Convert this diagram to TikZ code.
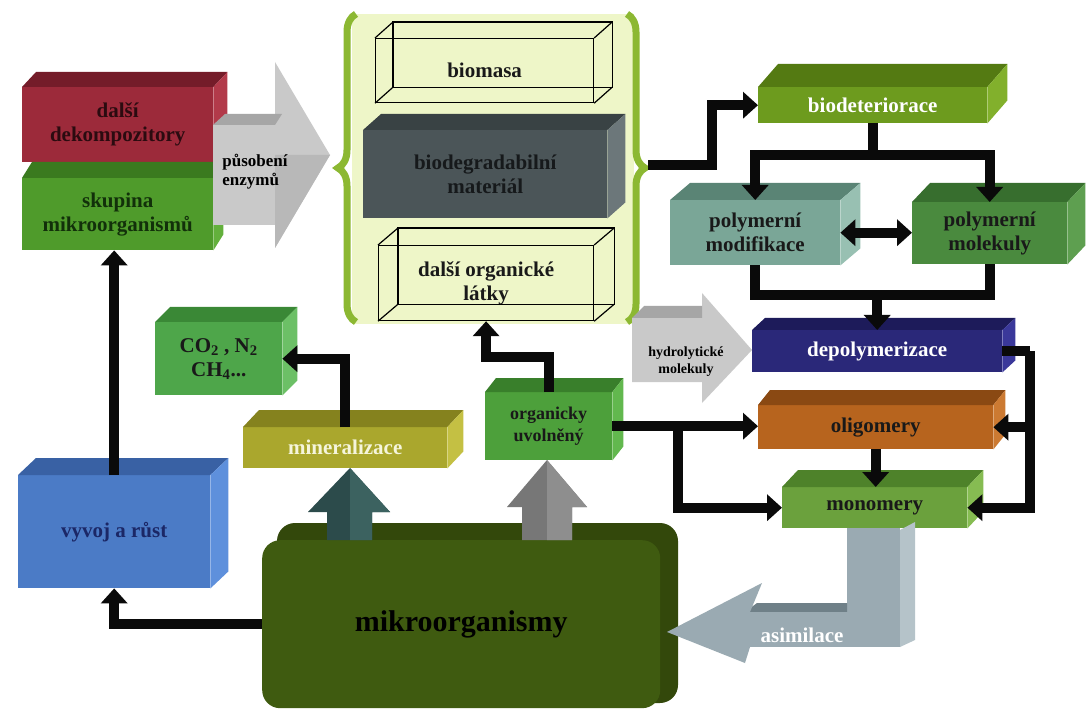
\documentclass[tikz,border=0pt]{standalone}
\usepackage{fontspec}
\setmainfont{Liberation Serif}
\usetikzlibrary{arrows.meta,calc,decorations.pathreplacing}

\definecolor{arrowblack}{HTML}{0A0A0A}
\definecolor{panelfill}{HTML}{EEF6C8}
\definecolor{bracegreen}{HTML}{8CB832}
\definecolor{dekfront}{HTML}{9C2A3A}\definecolor{dektop}{HTML}{741C29}\definecolor{dekside}{HTML}{B23A4A}\definecolor{dektext}{HTML}{2B0B10}
\definecolor{skufront}{HTML}{4F9B2B}\definecolor{skutop}{HTML}{3A7A1F}\definecolor{skuside}{HTML}{63B03C}\definecolor{skutext}{HTML}{12300A}
\definecolor{matfront}{HTML}{4B5558}\definecolor{mattop}{HTML}{394244}\definecolor{matside}{HTML}{6C777A}\definecolor{mattext}{HTML}{16191B}
\definecolor{detfront}{HTML}{6D9B1E}\definecolor{dettop}{HTML}{547A12}\definecolor{detside}{HTML}{82B02C}
\definecolor{modfront}{HTML}{7AA697}\definecolor{modtop}{HTML}{5A8475}\definecolor{modside}{HTML}{98C0B2}
\definecolor{molfront}{HTML}{4A8A3E}\definecolor{moltop}{HTML}{376E2E}\definecolor{molside}{HTML}{5E9F50}
\definecolor{depfront}{HTML}{2A2879}\definecolor{deptop}{HTML}{1D1B5A}\definecolor{depside}{HTML}{3A389A}
\definecolor{oligfront}{HTML}{B7641E}\definecolor{oligtop}{HTML}{8A4913}\definecolor{oligside}{HTML}{CC7A32}
\definecolor{monofront}{HTML}{6BA13D}\definecolor{monotop}{HTML}{4E822A}\definecolor{monoside}{HTML}{86BC52}
\definecolor{cofront}{HTML}{4EA64A}\definecolor{cotop}{HTML}{3A8836}\definecolor{coside}{HTML}{6CC066}
\definecolor{minfront}{HTML}{AAA72D}\definecolor{mintop}{HTML}{85821E}\definecolor{minside}{HTML}{C4C043}\definecolor{mintext}{HTML}{F5F5DC}
\definecolor{orgfront}{HTML}{4DA03B}\definecolor{orgtop}{HTML}{397F2B}\definecolor{orgside}{HTML}{62B84E}
\definecolor{vyvfront}{HTML}{4B7BC6}\definecolor{vyvtop}{HTML}{3961A4}\definecolor{vyvside}{HTML}{5E90DC}\definecolor{vyvtext}{HTML}{1B2766}
\definecolor{mikfront}{HTML}{3F5B10}\definecolor{mikback}{HTML}{33480B}
\definecolor{minarrow}{HTML}{2C4B4B}\definecolor{minarrowlt}{HTML}{3C6260}
\definecolor{orgarrow}{HTML}{777777}\definecolor{orgarrowlt}{HTML}{8E8E8E}
\definecolor{asimfront}{HTML}{9AAAB2}\definecolor{asimtop}{HTML}{6F8088}\definecolor{asimside}{HTML}{B5C3C9}
\definecolor{enzfront}{HTML}{C9C9C9}\definecolor{enztop}{HTML}{A6A6A6}\definecolor{enzlow}{HTML}{B8B8B8}

\newcommand{\boxfaces}[5]{%
  \fill[#4] (#1.north west) -- ++(#2,#3) -- ([shift={(#2,#3)}]#1.north east) -- (#1.north east) -- cycle;
  \fill[#5] (#1.north east) -- ([shift={(#2,#3)}]#1.north east) -- ([shift={(#2,#3)}]#1.south east) -- (#1.south east) -- cycle;}
\newcommand{\wireback}[3]{%
  \draw[wire] ([shift={(#2,#3)}]#1.north west) rectangle ([shift={(#2,#3)}]#1.south east);
  \foreach \c in {north west,north east,south west,south east}
    \draw[wire] (#1.\c) -- ++(#2,#3);}

\tikzset{
  block/.style={anchor=north west, inner sep=0pt, align=center, text=black!90,
    font=\bfseries\fontsize{21}{24}\selectfont},
  wire/.style={draw=black, line width=1.2pt},
  line/.style={line width=10pt, draw=arrowblack},
  conn/.style={line, -{Triangle[width=26pt,length=15pt]}},
  dconn/.style={line, {Triangle[width=26pt,length=15pt]}-{Triangle[width=26pt,length=15pt]}},
  brace/.style={decorate, decoration={brace, amplitude=18pt}, line width=7pt, draw=bracegreen},
}

\begin{document}
\begin{tikzpicture}[x=1pt,y=-1pt]
  \fill[white] (0,0) rectangle (1087,711);
  \useasboundingbox (0,0) rectangle (1087,711);

  \node[block, fill=dekfront, text=dektext, minimum width=191pt, minimum height=75pt] (dekomp) at (22,87) {další\\dekompozitory};
  \boxfaces{dekomp}{14}{-15}{dektop}{dekside}
  \node[block, fill=skufront, text=skutext, minimum width=191pt, minimum height=72pt] (skupina) at (22,178) {skupina\\mikroorganismů};
  \boxfaces{skupina}{10}{-16}{skutop}{skuside}

  \fill[enzfront] (213,125) -- (275,125) -- (275,62) -- (330,155) -- (275,248) -- (275,225) -- (213,225) -- cycle;
  \fill[enztop] (213,125) -- (225,114) -- (282,114) -- (275,125) -- cycle;
  \fill[enzlow] (275,155) -- (330,155) -- (275,248) -- cycle;
  \node[align=left, inner sep=0pt, font=\bfseries\fontsize{17}{19}\selectfont] (enz) at (255,172) {působení\\enzymů};

  \node[anchor=north west, fill=panelfill, minimum width=282pt, minimum height=310pt] (panel) at (352,14) {};
  \draw[brace] (356,322) -- (356,14);
  \draw[brace] (627,14) -- (627,322);
  \coordinate (ptip) at (648,165);

  \node[block, wire, minimum width=218pt, minimum height=64pt] (biomasa) at (375,38) {biomasa};
  \wireback{biomasa}{18}{-16}
  \node[block, fill=matfront, text=mattext, minimum width=244pt, minimum height=88pt] (biodegr) at (363,130) {biodegradabilní\\materiál};
  \boxfaces{biodegr}{18}{-16}{mattop}{matside}
  \node[block, wire, minimum width=215pt, minimum height=75pt] (latky) at (378,245) {další organické\\látky};
  \wireback{latky}{20}{-17}

  \node[block, fill=detfront, text=white, minimum width=229pt, minimum height=36pt] (biodet) at (758,87) {biodeteriorace};
  \boxfaces{biodet}{20}{-23}{dettop}{detside}
  \node[block, fill=modfront, minimum width=170pt, minimum height=65pt] (polmod) at (670,200) {polymerní\\modifikace};
  \boxfaces{polmod}{20}{-17}{modtop}{modside}
  \node[block, fill=molfront, minimum width=155pt, minimum height=62pt] (polmol) at (912,202) {polymerní\\molekuly};
  \boxfaces{polmol}{18}{-19}{moltop}{molside}
  \node[block, fill=depfront, text=white, minimum width=250pt, minimum height=42pt] (depoly) at (752,330) {depolymerizace};
  \boxfaces{depoly}{13}{-12}{deptop}{depside}
  \node[block, fill=oligfront, minimum width=235pt, minimum height=44pt] (oligo) at (758,405) {oligomery};
  \boxfaces{oligo}{12}{-15}{oligtop}{oligside}
  \node[block, fill=monofront, minimum width=185pt, minimum height=41pt] (mono) at (782,487) {monomery};
  \boxfaces{mono}{16}{-17}{monotop}{monoside}

  \fill[enzfront] (632,318) -- (702,318) -- (702,293) -- (752,350) -- (702,403) -- (702,382) -- (632,382) -- cycle;
  \fill[enztop] (632,318) -- (644,306) -- (702,306) -- (702,318) -- cycle;
  \node[align=center, inner sep=0pt, font=\bfseries\fontsize{14}{17}\selectfont] (hydro) at (686,362) {hydrolytické\\molekuly};

  \node[block, fill=cofront, minimum width=127pt, minimum height=73pt] (co2) at (155,322) {CO\textsubscript{2} , N\textsubscript{2}\\CH\textsubscript{4}...};
  \boxfaces{co2}{15}{-15}{cotop}{coside}
  \node[block, fill=minfront, text=mintext, minimum width=204pt, minimum height=41pt] (mineral) at (243,427) {mineralizace};
  \boxfaces{mineral}{16}{-17}{mintop}{minside}
  \node[block, fill=orgfront, font=\bfseries\fontsize{18}{22}\selectfont, minimum width=127pt, minimum height=68pt] (organ) at (485,392) {organicky\\uvolněný};
  \boxfaces{organ}{11}{-14}{orgtop}{orgside}
  \node[block, fill=vyvfront, text=vyvtext, minimum width=192pt, minimum height=113pt] (vyvoj) at (18,475) {vyvoj a růst};
  \boxfaces{vyvoj}{18}{-17}{vyvtop}{vyvside}

  \fill[mikback, rounded corners=18pt] (277,523) rectangle (678,703);
  \node[anchor=north west, fill=mikfront, rounded corners=18pt, minimum width=398pt, minimum height=168pt,
    font=\bfseries\fontsize{30}{32}\selectfont] (mikro) at (262,540) {mikroorganismy};

  \fill[minarrow] (327,540) -- (327,512) -- (308,512) -- (350,468) -- (390,512) -- (372,512) -- (372,540) -- cycle;
  \fill[minarrowlt] (350,468) -- (390,512) -- (372,512) -- (372,540) -- (350,540) -- cycle;
  \fill[orgarrow] (522,540) -- (522,507) -- (507,507) -- (547,460) -- (587,507) -- (572,507) -- (572,540) -- cycle;
  \fill[orgarrowlt] (547,460) -- (587,507) -- (572,507) -- (572,540) -- (547,540) -- cycle;

  \fill[asimside] (900,530) -- (915,522) -- (915,640) -- (900,647) -- cycle;
  \fill[asimfront] (847,528) rectangle (900,647);
  \fill[asimtop] (745,612) -- (757,603) -- (847,603) -- (847,612) -- cycle;
  \fill[asimfront] (745,612) rectangle (900,647);
  \fill[asimfront] (667,632) -- (762,583) -- (750,612) -- (750,647) -- (745,663) -- cycle;
  \node[text=white, font=\bfseries\fontsize{21}{24}\selectfont] (asim) at (802,635) {asimilace};

  \draw[conn] (vyvoj.north) -- (vyvoj.north |- skupina.south);
  \draw[conn] (mikro.west) -| (vyvoj.south);
  \draw[conn] (mineral.north) |- (co2.east);
  \draw[conn] (organ.north) -- ++(0,-35) -| (latky.south);
  \draw[conn] (organ.east) -- (organ.east -| oligo.west);
  \coordinate (split) at ($(organ.east)+(66,0)$);
  \draw[conn] (split) |- (mono.west);
  \draw[conn] (ptip) -- ++(64,0) |- (biodet.west);
  \draw[line] (biodet.south) -- ++(0,32) coordinate (bsplit);
  \draw[conn] (bsplit) -| (polmod.north);
  \draw[conn] (bsplit) -| (polmol.north);
  \draw[dconn] (polmod.east) -- (polmod.east -| polmol.west);
  \draw[line] (polmod.south) -- ++(0,30) coordinate (pjoin) -| (polmol.south);
  \draw[conn] (pjoin -| depoly.north) -- (depoly.north);
  \draw[line] (depoly.east) -- ++(28,0) coordinate (dright);
  \draw[conn] (dright) |- (oligo.east);
  \draw[conn] (dright) |- (mono.east);
  \draw[conn] (oligo.south) -- (oligo.south |- mono.north);
\end{tikzpicture}
\end{document}
